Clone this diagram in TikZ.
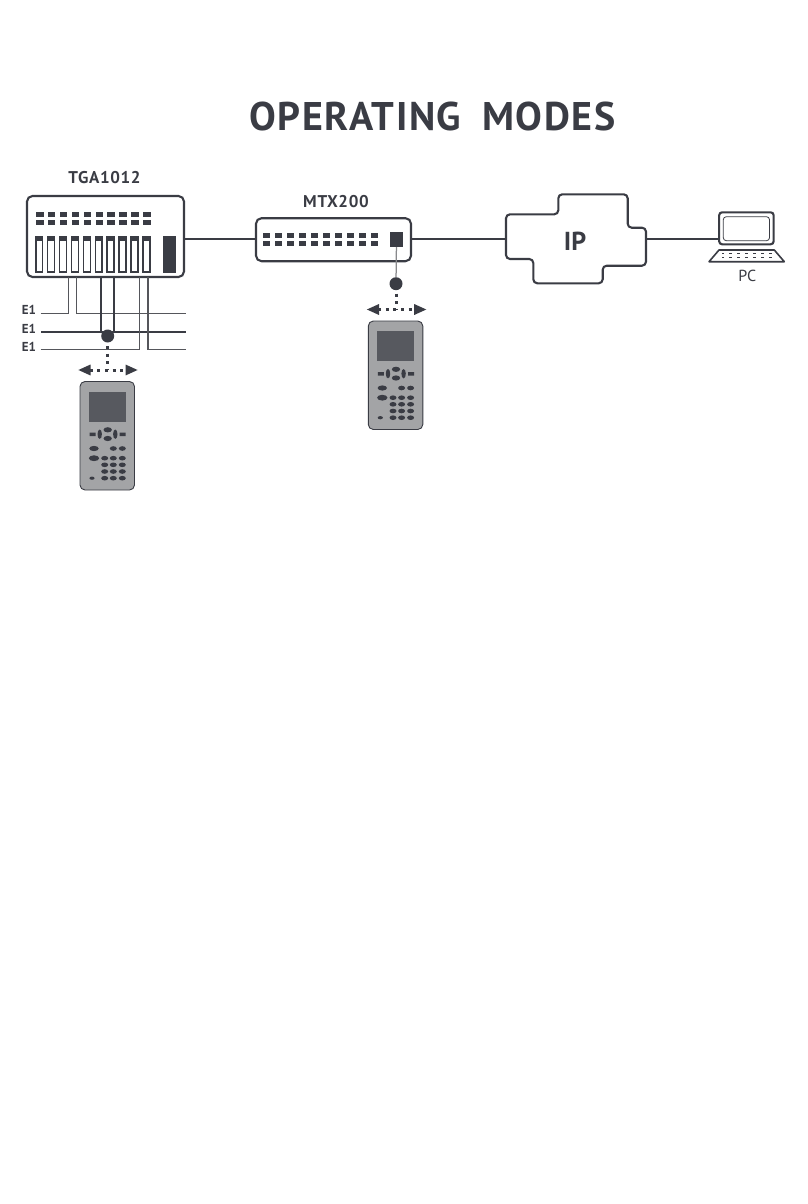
\documentclass[tikz,border=0pt]{standalone}
\usepackage{fontspec}
\setmainfont{PT Sans}
\newfontface\widebold[LetterSpace=4]{PT Sans Bold}
\usetikzlibrary{arrows.meta}
\definecolor{ink}{HTML}{3A3C44}
\definecolor{wire}{HTML}{55565B}
\definecolor{casing}{HTML}{A3A4A6}

\begin{document}
\begin{tikzpicture}
  [ x=1pt, y=-1pt, >={Triangle[length=12.5pt, width=10pt]}
  , device/.style={rectangle, rounded corners=5.5pt, draw=ink, line width=2.1pt, fill=white, inner sep=0pt}
  , heading/.style={font=\widebold\fontsize{40}{40}\selectfont, text=ink, inner sep=0pt}
  , devlabel/.style={font=\widebold\fontsize{17}{17}\selectfont, text=ink, inner sep=0pt}
  , linelabel/.style={font=\bfseries\fontsize{13}{13}\selectfont, text=ink, inner sep=0pt}
  , thinwire/.style={draw=wire, line width=1.25pt}
  , trunk/.style={draw=ink, line width=2.2pt}
  , tap/.style={circle, fill=ink, minimum size=13pt, inner sep=0pt}
  , dotline/.style={draw=ink, line width=3pt, dash pattern=on 3pt off 4.6pt}
  , handset/.pic={
      \draw [ink, line width=0.9pt, fill=casing, rounded corners=5pt] (0,0) rectangle (54.5,108.5);
      \fill [ink!72!casing] (8.7,10) rectangle (46,40);
      \fill [ink] (9.5,51) rectangle (15.5,54.5) (39.7,51) rectangle (45.7,54.5);
      \fill [ink] (19.7,52.7) ellipse (2.2pt and 4.7pt) (35.3,52.7) ellipse (2.2pt and 4.7pt);
      \fill [ink] (27.7,48.3) ellipse (4.2pt and 2.6pt) (27.7,57) ellipse (4.2pt and 2.6pt);
      \fill [ink] (14,67) ellipse (4.7pt and 2.6pt) (14,76.7) ellipse (5.2pt and 2.9pt) (12,96.7) ellipse (2.6pt and 1.6pt);
      \fill [ink] (33.3,67) ellipse (3.5pt and 2.3pt) (42.3,67) ellipse (3.5pt and 2.3pt);
      \foreach \y in {76.7,83.3,90,96.7}
        \foreach \x in {24.7,33.3,42.3}
          \fill [ink] (\x,\y) ellipse (3.5pt and 2.3pt);
    }]
  \useasboundingbox (0,0) rectangle (808,1204);
  \node (title) at (432.5,116.5) [heading] {OPERATING\hspace{21pt}MODES};

  % TGA1012
  \node (tgalabel) at (104.5,178) [devlabel] {TGA1012};
  \node (tga) at (105.5,236.5) [device, minimum width=157pt, minimum height=81pt] {};
  \foreach \i in {0,...,9} {
    \fill [ink] (36+11.9*\i,212) rectangle +(7.5,5.2);
    \fill [ink] (36+11.9*\i,220) rectangle +(7.5,5.2);
    \fill [ink] (35+11.9*\i,236) rectangle +(8.4,36.7);
    \fill [white] (36.5+11.9*\i,240.5) rectangle +(5.4,30.7);
  }
  \fill [ink] (162.7,236) rectangle (175.7,272.7);

  % MTX200
  \node (mtxlabel) at (336,202) [devlabel] {MTX200};
  \node (mtx) at (333.5,239.7) [device, minimum width=155pt, minimum height=43pt] {};
  \foreach \i in {0,...,9} {
    \fill [ink] (262.7+12*\i,232.7) rectangle +(7.6,4.8);
    \fill [ink] (262.7+12*\i,241.2) rectangle +(7.6,5);
  }
  \node (port) at (396.5,239.5) [rectangle, fill=ink, minimum width=13.6pt, minimum height=15pt, inner sep=0pt] {};

  % IP
  \node (ip) at (575,241) [inner sep=0pt, font=\bfseries\fontsize{26}{26}\selectfont, text=ink] {IP};
  \coordinate (ipwest) at (506,239);
  \coordinate (ipeast) at (646,239);
  \draw [ink, line width=2.1pt, rounded corners=4pt]
    (506,214.3) -- (558.3,214.3) -- (558.3,194.3) -- (627.7,194.3) -- (627.7,227.7) --
    (646,227.7) -- (646,265.7) -- (602.7,265.7) -- (602.7,283.3) -- (533.3,283.3) --
    (533.3,259) -- (506,259) -- cycle;

  % PC
  \node (monitor) at (746.4,228.3) [device, rounded corners=3pt, minimum width=54.5pt, minimum height=32pt] {};
  \draw [ink, line width=0.8pt, rounded corners=3pt] (723.3,216.7) rectangle (769.5,240.7);
  \draw [ink, line width=1.6pt, line join=round, fill=white]
    (719,250) -- (774.3,250) -- (784.3,261.7) -- (709,261.7) -- cycle;
  \foreach \i in {0,...,6} {
    \fill [ink] (721.5+7.9*\i,252.5) rectangle +(2.6,1.7);
    \fill [ink] (721.5+7.9*\i,256.5) rectangle +(2.6,1.7);
  }
  \node (pclabel) at (747.3,275.7) [inner sep=0pt, font=\fontsize{16}{16}\selectfont, text=ink] {PC};

  % links
  \draw [trunk] (tga.east |- 0,239) -- (mtx.west |- 0,239);
  \draw [trunk] (mtx.east |- 0,239) -- (ipwest);
  \draw [trunk] (ipeast) -- (monitor.west |- ipeast);

  % E1 lines
  \node (e1a) at (29,310) [linelabel] {E1};
  \node (e1b) at (29,329) [linelabel] {E1};
  \node (e1c) at (29,347) [linelabel] {E1};
  \node (tapa) at (107.7,336) [tap] {};
  \coordinate (e1aend) at (40.7,313.3);
  \coordinate (e1bend) at (41,332.3);
  \coordinate (e1cend) at (40.7,349.7);
  \coordinate (e1aout) at (185.7,313.3);
  \coordinate (e1bout) at (185.7,332.3);
  \coordinate (e1cout) at (185.7,349.7);
  \draw [thinwire] (e1aend) -- (68.7,313.3) -- (68.7,277);
  \draw [thinwire] (e1aout) -- (76.7,313.3) -- (76.7,277);
  \draw [trunk] (e1bend) -- (e1bout);
  \draw [trunk] (101.3,277) -- (101.3,332.3);
  \draw [trunk] (114.3,277) -- (114.3,332.3);
  \draw [thinwire] (e1cend) -- (139.7,349.7) -- (139.7,277);
  \draw [thinwire] (e1cout) -- (148,349.7) -- (148,277);

  % test sets
  \node (tapb) at (396,283.7) [tap] {};
  \draw [thinwire, draw=wire!70] (port) -- (tapb);
  \coordinate (forka) at (107.7,370);
  \coordinate (forkb) at (396,309.5);
  \draw [dotline] (tapa) ++(0,10) -- (forka);
  \draw [dotline] (tapb) ++(0,10) -- (forkb);
  \draw [dotline, <->] (78,370) -- (138,370);
  \draw [dotline, <->] (366.5,309.5) -- (426.7,309.5);
  \pic at (80,381.5) {handset};
  \pic at (368.3,321) {handset};
\end{tikzpicture}
\end{document}
